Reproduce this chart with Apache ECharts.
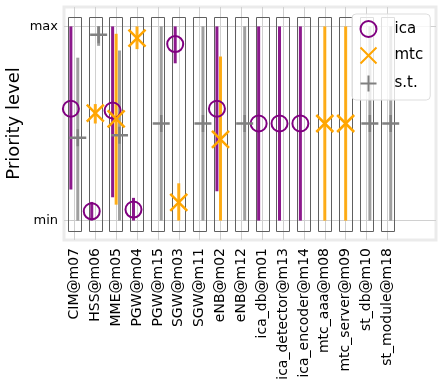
<!DOCTYPE html>
<html>
<head>
<meta charset="utf-8">
<script src="https://cdn.jsdelivr.net/npm/echarts@6/dist/echarts.min.js"></script>
<style>
  html, body { margin: 0; padding: 0; background: #fff; }
  #chart { width: 446px; height: 382px; }
</style>
</head>
<body>
<div id="chart"></div>
<script>
// categories (hosts)
const categories = ['CIM@m07', 'HSS@m06', 'MME@m05', 'PGW@m04', 'PGW@m15', 'SGW@m03', 'SGW@m11',
  'eNB@m02', 'eNB@m12', 'ica_db@m01', 'ica_detector@m13', 'ica_encoder@m14',
  'mtc_aaa@m08', 'mtc_server@m09', 'st_db@m10', 'st_module@m18'];

// priority level: 0 = min, 1 = max
const icaVal = [0.576, 0.048, 0.567, 0.057, null, 0.909, null, 0.576, null, 0.5, 0.5, 0.5, null, null, null, null];
const icaLo  = [0.16, 0, 0.12, 0, null, 0.81, null, 0.151, null, 0, 0, 0, null, null, null, null];
const icaHi  = [1, 0.096, 1, 0.117, null, 1, null, 1, null, 1, 1, 1, null, null, null, null];

const mtcVal = [null, 0.553, 0.524, 0.94, null, 0.094, null, 0.418, null, null, null, null, 0.5, 0.5, null, null];
const mtcLo  = [null, 0.5, 0.082, 0.883, null, 0, null, 0, null, null, null, null, 0, 0, null, null];
const mtcHi  = [null, 0.6, 0.962, 1, null, 0.192, null, 0.845, null, null, null, null, 1, 1, null, null];

const stVal = [0.426, 0.957, 0.44, null, 0.5, null, 0.5, null, 0.5, null, null, null, null, null, 0.5, 0.5];
const stLo  = [0, 0.9, 0, null, 0, null, 0, null, 0, null, null, null, null, null, 0, 0];
const stHi  = [0.839, 1, 0.876, null, 1, null, 1, null, 1, null, null, null, null, null, 1, 1];

const yTicks = [0, 1];
const yTickNames = ['min', 'max'];

const FONT = 'DejaVu Sans';
const PURPLE = '#800080', ORANGE = '#FFA500', GRAY = '#808080';

function points(vals, off) {
  let out = [];
  vals.forEach((v, i) => { if (v != null) out.push([i + off, v]); });
  return out;
}
function bars(lo, hi, off) {
  let out = [];
  lo.forEach((v, i) => { if (v != null) out.push([i + off, v, hi[i]]); });
  return out;
}
function barSeries(data, color) {
  return {
    type: 'custom', z: 2, silent: true, data: data,
    encode: { x: 0, y: [1, 2] },
    renderItem: function (params, api) {
      const a = api.coord([api.value(0), api.value(1)]);
      const b = api.coord([api.value(0), api.value(2)]);
      return { type: 'line', shape: { x1: a[0], y1: a[1], x2: b[0], y2: b[1] },
        style: { stroke: color, lineWidth: 3 } };
    }
  };
}

const chart = echarts.init(document.getElementById('chart'));
chart.setOption({
  animation: false,
  textStyle: { fontFamily: FONT },
  grid: { left: 64, right: 10, top: 7, bottom: 142, show: true, borderColor: '#ebebeb', borderWidth: 3,
    containLabel: false, outerBoundsMode: 'none' },
  legend: {
    orient: 'vertical', left: 352, top: 14,
    padding: [6, 7, 6, 6],
    itemWidth: 24, itemHeight: 16, itemGap: 7,
    backgroundColor: 'rgba(255,255,255,0.8)', borderColor: '#dddddd', borderWidth: 1, borderRadius: 4,
    textStyle: { fontSize: 15, color: '#000', padding: [0, 0, 0, 9] },
    data: ['ica', 'mtc', 's.t.'],
    z: 10
  },
  xAxis: {
    type: 'value', min: -0.5, max: 17.33,
    axisLine: { show: false },
    axisTick: { show: false, customValues: categories.map((c, i) => i) },
    splitLine: { show: true, lineStyle: { color: '#d0d0d0', width: 1 } },
    axisLabel: {
      customValues: categories.map((c, i) => i),
      rotate: 90, margin: 8, fontSize: 14, color: '#000',
      formatter: v => categories[Math.round(v)]
    }
  },
  yAxis: {
    type: 'value', min: -0.1, max: 1.1,
    name: 'Priority level', nameLocation: 'middle', nameGap: 41, nameRotate: 90,
    nameMoveOverlap: false,
    nameTextStyle: { fontSize: 18, color: '#000' },
    axisLine: { show: false },
    axisTick: { show: true, length: 4, customValues: yTicks, lineStyle: { color: '#c8c8c8' } },
    splitLine: { show: true, lineStyle: { color: '#d0d0d0', width: 1 } },
    axisLabel: {
      customValues: yTicks, fontSize: 13, color: '#000', margin: 6,
      formatter: v => yTickNames[yTicks.indexOf(Math.round(v))]
    }
  },
  series: [
    {
      type: 'custom', z: 1, silent: true,
      data: categories.map((c, i) => [i]),
      encode: { x: 0 },
      renderItem: function (params, api) {
        const i = api.value(0);
        const p0 = api.coord([i - 0.32, 1.05]);
        const p1 = api.coord([i + 0.32, -0.05]);
        return { type: 'rect',
          shape: { x: Math.round(p0[0]) + 0.5, y: Math.round(p0[1]) + 0.5,
                   width: Math.round(p1[0] - p0[0]), height: Math.round(p1[1] - p0[1]) },
          style: { fill: 'none', stroke: '#606060', lineWidth: 1 } };
      }
    },
    barSeries(bars(icaLo, icaHi, -0.17), 'rgba(128,0,128,0.9)'),
    barSeries(bars(mtcLo, mtcHi, 0), 'rgba(255,165,0,0.9)'),
    barSeries(bars(stLo, stHi, 0.16), 'rgba(128,128,128,0.75)'),
    {
      name: 'ica', type: 'scatter', z: 3, data: points(icaVal, -0.17),
      symbol: 'circle', symbolSize: 16,
      itemStyle: { color: 'rgba(0,0,0,0)', borderColor: PURPLE, borderWidth: 2, opacity: 1 }
    },
    {
      name: 'mtc', type: 'scatter', z: 3, data: points(mtcVal, 0),
      symbol: 'path://M0,0L10,10M10,0L0,10', symbolSize: 17,
      itemStyle: { color: 'none', borderColor: ORANGE, borderWidth: 2.5, opacity: 1 }
    },
    {
      name: 's.t.', type: 'scatter', z: 3, data: points(stVal, 0.16),
      symbol: 'path://M5,0L5,10M0,5L10,5', symbolSize: 17,
      itemStyle: { color: 'none', borderColor: GRAY, borderWidth: 2.5, opacity: 1 }
    }
  ]
});
</script>
</body>
</html>
